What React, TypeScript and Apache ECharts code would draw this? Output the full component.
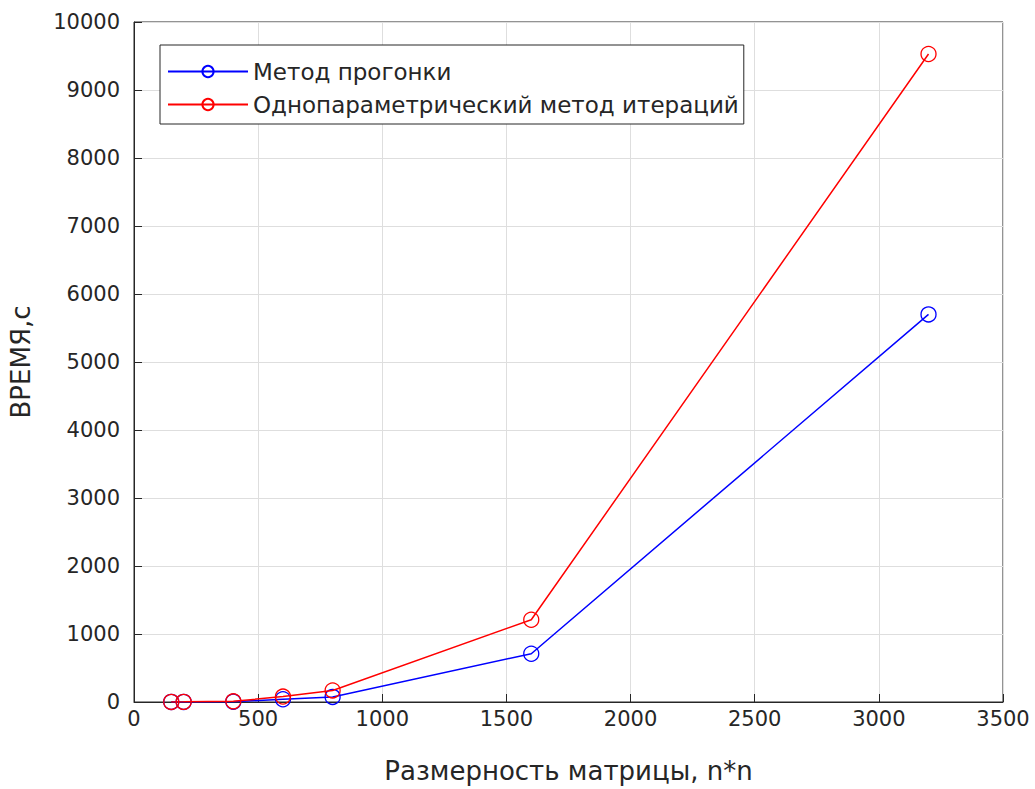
import React, { useEffect, useRef } from "react";
import * as echarts from "echarts";

const sizes = [150, 200, 400, 600, 800, 1600, 3200];
const sweepTimes = [1, 1, 5, 40, 75, 710, 5700];
const iterTimes = [1, 2, 10, 80, 170, 1210, 9530];
const seriesNames = ["Метод прогонки", "Однопараметрический метод итераций"];
const xTitle = "Размерность матрицы, n*n";
const yTitle = "ВРЕМЯ,с";

const FONT = "'DejaVu Sans', sans-serif";

export default function App() {
  const ref = useRef<HTMLDivElement>(null);
  useEffect(() => {
    if (!ref.current) return;
    const chart = echarts.init(ref.current, null, { renderer: "svg" });
    const axisCommon = {
      axisLine: { show: true, lineStyle: { color: "#262626", width: 1 } },
      axisTick: { show: true, inside: true, length: 8, lineStyle: { color: "#262626" } },
      splitLine: { show: true, lineStyle: { color: "#dedede", width: 1 } },
      axisLabel: {
        color: "#262626",
        fontSize: 21,
        fontFamily: FONT,
        formatter: (v: number) => String(v),
      },
      nameTextStyle: { color: "#262626", fontSize: 26, fontFamily: FONT },
    };
    const mk = (name: string, data: number[], color: string, z: number) => ({
      name,
      type: "line",
      data: sizes.map((s, i) => [s, data[i]]),
      symbol: "circle",
      symbolSize: 15,
      lineStyle: { color, width: 1.5 },
      itemStyle: { color: "rgba(255,255,255,0)", borderColor: color, borderWidth: 1.3 },
      z,
    });
    chart.setOption({
      animation: false,
      backgroundColor: "#ffffff",
      textStyle: { fontFamily: FONT },
      grid: {
        left: 134,
        right: 32,
        top: 22,
        bottom: 78,
        show: true,
        borderColor: "#262626",
        borderWidth: 1,
        containLabel: false,
      },
      legend: {
        orient: "vertical",
        left: 160,
        top: 45,
        padding: [15, 5, 8, 7],
        itemGap: 10,
        itemWidth: 80,
        itemHeight: 14,
        borderColor: "#262626",
        borderWidth: 1,
        backgroundColor: "#ffffff",
        textStyle: { color: "#262626", fontSize: 23, fontFamily: FONT },
        data: seriesNames,
      },
      xAxis: {
        type: "value",
        min: 0,
        max: 3500,
        interval: 500,
        name: xTitle,
        nameLocation: "middle",
        nameGap: 56,
        ...axisCommon,
        axisLabel: { ...axisCommon.axisLabel, margin: 6 },
      },
      yAxis: {
        type: "value",
        min: 0,
        max: 10000,
        interval: 1000,
        name: yTitle,
        nameLocation: "middle",
        nameGap: 100,
        ...axisCommon,
        axisLabel: { ...axisCommon.axisLabel, margin: 14 },
      },
      series: [
        mk(seriesNames[0], sweepTimes, "#0000ff", 2),
        mk(seriesNames[1], iterTimes, "#ff0000", 3),
      ],
    });
    return () => chart.dispose();
  }, []);
  return (
    <div
      ref={ref}
      style={{ position: "absolute", left: 0, top: 0, width: 1035, height: 789, background: "#fff" }}
    />
  );
}
